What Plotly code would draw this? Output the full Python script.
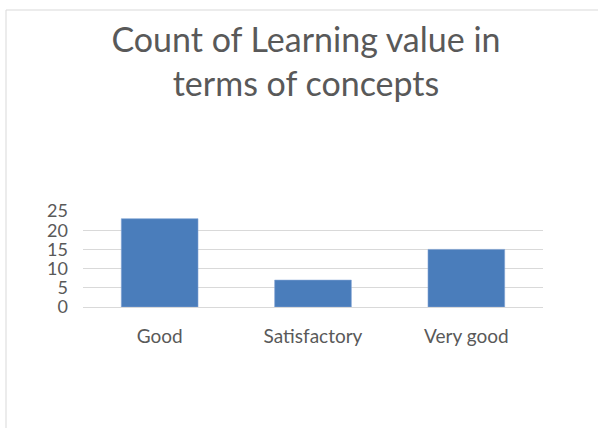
import plotly.graph_objects as go

categories = ["Good", "Satisfactory", "Very good"]
counts = [23, 7, 15]
y_ticks = [0, 5, 10, 15, 20, 25]

W, H = 598, 428
L, R, T, B = 83, 55, 211, 121
pw, ph = W - L - R, H - T - B

fig = go.Figure(go.Bar(
    x=categories, y=counts,
    marker=dict(color="#4A7DBB", line=dict(color="#7FA3D3", width=0.6)),
    width=0.5,
))

FONT = "Lato, Carlito, 'Open Sans', sans-serif"
GREY = "#595959"

fig.update_layout(
    width=W, height=H,
    margin=dict(l=L, r=R, t=T, b=B, pad=0),
    paper_bgcolor="white", plot_bgcolor="white",
    showlegend=False,
    title=dict(
        text="Count of Learning value in<br>terms of concepts",
        x=306 / W, xanchor="center",
        y=1 - 52 / H, yanchor="middle",
        font=dict(family=FONT, size=34, color=GREY),
    ),
    font=dict(family=FONT, color=GREY),
)

fig.update_xaxes(
    showgrid=False, showline=False, ticks="",
    tickfont=dict(size=19, color=GREY, family=FONT),
    ticklabelstandoff=16,
)
fig.update_yaxes(
    range=[0, 25], tickvals=y_ticks, ticktext=[str(v) for v in y_ticks],
    showgrid=True, gridcolor="#D9D9D9", gridwidth=1,
    zeroline=True, zerolinecolor="#D9D9D9", zerolinewidth=1,
    showline=False, ticks="",
    tickfont=dict(size=18, color=GREY, family=FONT),
    ticklabelstandoff=14,
)

# chart frame (top and left border lines)
x_left = (6 - L) / pw
y_top = (H - B - 10) / ph
fig.add_shape(type="line", xref="paper", yref="paper",
              x0=x_left, x1=(W - L) / pw, y0=y_top, y1=y_top,
              line=dict(color="#D9D9D9", width=1))
fig.add_shape(type="line", xref="paper", yref="paper",
              x0=x_left, x1=x_left, y0=y_top, y1=-(B + 5) / ph,
              line=dict(color="#D9D9D9", width=1))

fig.write_html(
    "out.html",
    config={"displayModeBar": False},
    post_script="document.body.style.margin='0';document.body.style.overflow='hidden';",
)
